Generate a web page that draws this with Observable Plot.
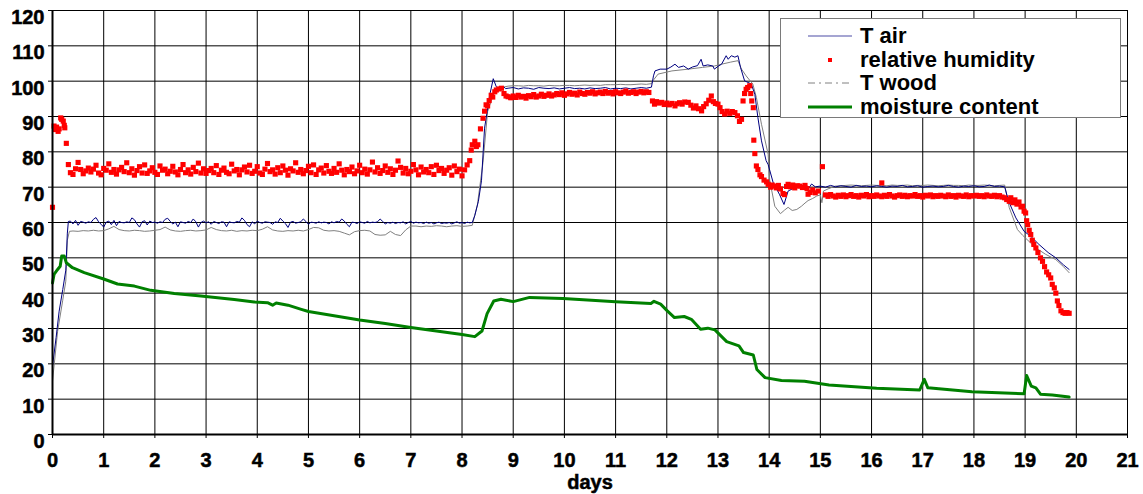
<!DOCTYPE html>
<html><head><meta charset="utf-8">
<script src="https://cdn.jsdelivr.net/npm/d3@7"></script>
<script src="https://cdn.jsdelivr.net/npm/@observablehq/plot@0.6"></script>
<style>
body{margin:0;background:#fff;}
#wrap{position:relative;width:1143px;height:494px;font-family:"Liberation Sans",Arial,sans-serif;}
#wrap svg text{font:bold 20px "Liberation Sans",Arial,sans-serif !important;fill:#000;}
#legend{position:absolute;left:780px;top:18px;width:341px;height:100px;background:#fff;border:1px solid #7a7a7a;box-sizing:border-box;}
.row{position:absolute;left:0;height:24px;display:flex;align-items:center;}
.row svg{margin-left:27px;margin-right:8px;display:block}
.row span{font-weight:bold;font-size:22px;color:#000;line-height:24px}
</style></head>
<body><div id="wrap"></div>
<script>
// ---------- tick labels ----------
const dayTicks = d3.range(0, 22);
const valueTicks = d3.range(0, 121, 10);
const seriesNames = ["T air", "relative humidity", "T wood", "moisture content"];

// ---------- T air ----------
const tAirStart = [[0,19.3],[0.07,27.4],[0.13,34.9],[0.2,41],[0.26,46.5],[0.29,57],[0.31,60.3]];
const tAirFlat1 = [ // from day 0.35, every 0.05 day
60.4,59.6,60.6,59.2,60.3,60.1,59.8,60.2,60.0,60.9,61.4,60.2,59.5,58.7,60.1,60.4,59.4,60.6,59.1,60.3,
60.0,59.9,60.2,60.0,61.3,60.8,59.6,58.7,60.2,60.5,59.3,60.4,60.0,60.1,59.8,60.2,60.0,60.9,61.2,60.3,
59.6,60.1,58.8,60.2,60.0,59.8,60.3,60.0,61.0,60.2,58.7,60.0,60.4,59.9,60.2,59.5,60.3,60.0,59.7,60.2,
60.1,58.8,60.2,60.0,59.9,60.3,60.1,61.3,60.6,59.4,58.8,60.2,59.6,60.4,60.0,59.8,60.2,60.1,60.0,59.5,
60.2,60.0,61.2,60.4,59.7,58.6,60.1,60.3,59.8,60.0,60.2,61.0,60.3,59.5,60.1,60.0,59.8,60.2,59.9,60.1,
60.0,59.6,60.2,59.9,60.3,60.1,61.0,60.4,59.5,58.8,60.1,60.0,59.7,60.2,60.0,59.8,60.3,59.9,60.1,60.0,
60.2,61.0,60.3,59.6,60.0,59.8,60.1,59.7,60.0,59.9,60.2,59.6,60.0,60.3,59.8,60.1,59.9,60.0,59.7,60.1,
59.8,60.0,59.6,59.9,60.1,59.7,59.9,59.8,60.0,59.6,59.9,60.2,59.8,60.0,59.7,60.1,59.9,60.0];
const tAirRise1 = [[8.25,62],[8.32,66],[8.38,71.8],[8.44,86.7],[8.54,96],[8.61,100.7],[8.67,98.4],[8.74,97.5],[8.8,98.6],[8.85,97.9]];
const tAirFlat2 = [ // from day 8.9, every 0.1 day
98.0,98.2,97.8,98.1,98.0,97.7,98.2,98.0,97.9,98.1,97.8,98.0,98.2,97.9,98.0,97.8,98.1,97.9,98.0,98.2,
97.8,98.0,97.9,98.1,97.8,98.0,98.2,98.0,98.3];
const tAirMid = [[11.74,101.5],[11.77,102.9],[11.87,103.4],[12.0,103.4],[12.08,104.0],[12.16,104.8],[12.23,103.9],[12.33,104.3],[12.42,103.4],[12.5,104.0],[12.6,104.4],[12.67,106.2],[12.71,104.3],[12.8,104.6],[12.9,104.3],[12.93,103.4],[13.0,104.2],[13.07,104.8],[13.16,107.2],[13.2,106.2],[13.26,107.2],[13.33,106.8],[13.39,107.2],[13.44,103.9],[13.52,100.1],[13.65,99.2],[13.72,96.3],[13.78,89.7],[13.85,83.1],[13.94,77.5],[13.98,76.4],[14.08,71.2],[14.2,68],[14.29,65.1],[14.37,68.9],[14.45,69.5],[14.53,70.6],[14.63,69.8],[14.7,70.8],[14.78,69.9],[14.83,70.9],[14.9,70.1]];
const tAirFlat3 = [ // from day 15.0, every 0.1 day
70.3,70.0,70.5,70.1,70.4,70.2,70.0,70.5,70.2,70.3,70.1,70.4,70.2,70.0,70.3,70.2,70.5,70.1,70.2,70.4,
70.0,70.2,70.3,70.1,70.2,70.5,70.2,70.0,70.3,70.2,70.4,70.1,70.2,70.6,70.2,70.3,70.1];
const tAirEnd = [[18.65,67.5],[18.69,65.6],[18.82,61.3],[18.98,57.5],[19.11,56.1],[19.27,53.8],[19.45,51.5],[19.6,50],[19.75,48],[19.86,46.7]];

// ---------- T wood ----------
const tWoodStart = [[0,15.1],[0.1,29.2],[0.2,38],[0.26,43.4],[0.29,55],[0.33,57.5]];
const tWoodFlat1 = [ // from day 0.4, every 0.1 day
57.6,57.5,57.7,57.6,57.8,57.6,57.7,58.2,58.9,58.0,
57.7,57.6,57.8,57.7,57.5,57.6,57.8,58.0,58.7,57.9,
57.6,57.5,57.7,57.8,57.6,57.7,57.9,58.6,58.0,57.7,
57.6,57.8,57.5,57.7,57.6,57.8,57.7,58.1,58.8,57.9,
57.6,57.5,57.7,57.6,57.8,57.6,58.0,58.6,58.5,57.8,
57.6,57.7,57.5,57.0,56.5,57.4,57.7,57.8,57.6,56.6,
56.4,56.5,57.5,56.6,56.3,57.9,59.0,59.0,58.8,59.0,
58.9,59.1,59.0,58.8,59.0,59.1,58.9,59.0,59.2];
const tWoodRise1 = [[8.3,65],[8.41,77],[8.5,91.4],[8.63,97],[8.77,98.2]];
const tWoodFlat2 = [ // from day 8.9, every 0.1 day
98.6,98.7,98.7,98.6,98.8,98.7,98.7,98.6,98.8,98.7,98.7,98.8,98.8,98.7,98.8,98.9,98.8,98.9,98.8,99.0,
99.0,99.0,99.1,99.0,99.0,99.1,99.2,99.1,99.3];
const tWoodMid = [[11.75,100.5],[11.83,102],[12.1,102.9],[12.42,103.4],[12.7,103.9],[12.93,104.3],[13.07,104.8],[13.25,105.4],[13.39,105.8],[13.46,103.4],[13.55,101.5],[13.68,99.2],[13.75,95.4],[13.85,87.8],[13.98,79.3],[14.01,72],[14.11,64.6],[14.22,62.5],[14.3,63.5],[14.37,64.3],[14.45,63.4],[14.54,63.7],[14.63,64.6],[14.7,65.5],[14.76,66.2],[14.85,66.8],[14.93,67.5],[15.0,67.8],[15.03,65.6],[15.06,68.9],[15.15,69.5],[15.29,70.3]];
const tWoodFlat3 = [ // from day 15.4, every 0.1 day
70.4,70.5,70.6,70.5,70.4,70.5,70.6,70.5,70.5,70.4,70.6,70.5,70.5,70.6,70.4,70.5,70.5,70.6,70.5,70.4,
70.5,70.6,70.5,70.5,70.4,70.6,70.5,70.5,70.6,70.5,70.4,70.5,70.6];
const tWoodEnd = [[18.69,64.2],[18.85,58],[18.95,56.4],[19.21,52.8],[19.4,51],[19.6,49.5],[19.75,47.5],[19.86,45.8]];

// ---------- relative humidity ----------
const rhStart = [[0,64.3],[0.03,87.3],[0.05,86.5],[0.06,86.3],[0.08,87],[0.11,85.8],[0.13,86.5],[0.16,89.6],[0.18,89.2],[0.21,88.7],[0.23,87.5],[0.24,86.8],[0.27,82.4],[0.31,76.4]];
const rhFlat1 = [ // from day 0.35, every 0.05 day
74.1,73.6,75.2,77.0,75.0,73.8,74.6,75.4,74.3,75.1,76.2,74.0,73.5,75.3,74.8,76.6,74.2,75.0,73.7,74.9,
75.6,74.4,76.9,74.1,75.2,73.4,74.7,75.8,74.0,76.3,73.9,74.6,75.5,74.2,73.6,76.0,74.8,75.1,73.8,74.5,
75.9,74.3,73.5,75.0,76.4,74.1,74.9,73.7,75.6,74.4,76.8,74.0,75.2,73.9,74.7,75.3,74.1,76.1,73.6,74.8,
75.4,74.2,73.8,76.5,74.6,75.0,73.5,74.9,75.7,74.3,76.2,73.9,74.5,75.8,74.0,73.6,75.1,76.7,74.4,74.9,
73.7,75.5,74.1,76.0,74.8,73.4,75.2,74.6,76.9,74.2,75.0,73.8,74.7,75.9,74.1,76.3,73.6,74.9,75.4,74.0,
76.1,74.5,73.9,75.3,74.2,76.6,74.8,73.5,75.0,74.4,75.7,73.8,74.6,76.2,74.1,75.1,73.7,74.9,77.1,74.3,
75.5,73.9,74.7,76.0,74.2,75.2,73.6,74.8,77.4,75.6,74.0,75.3,73.8,74.5,76.4,74.9,73.5,75.7,74.3,75.0,
74.1,75.8,73.6,76.2,74.7,75.3,73.9,74.8,75.5,73.4,76.0,74.4,75.1,73.2,74.9,76.3];
const rhRise1 = [[8.15,77.5],[8.18,80.5],[8.2,82],[8.25,83],[8.28,81.5],[8.31,82],[8.36,86.5],[8.41,89.5],[8.44,91.5],[8.47,93.3],[8.5,93],[8.53,94.5],[8.57,96],[8.6,95.5],[8.64,97],[8.67,97.5],[8.72,97.8],[8.77,98],[8.82,96.5],[8.86,95.8]];
const rhFlat2 = [ // from day 8.9, every 0.05 day
95.6,95.3,95.8,95.4,96.0,95.5,95.7,95.2,95.9,95.6,96.2,95.5,95.8,96.3,95.7,96.0,96.4,95.8,96.1,96.5,
96.2,96.7,96.0,96.4,96.8,96.3,96.6,96.1,96.9,96.5,96.3,96.8,96.6,97.0,96.4,96.7,96.9,96.5,97.1,96.6,
96.8,96.4,97.0,96.7,96.5,96.9,97.2,96.6,96.8,97.0,96.5,96.9,97.1,96.7,97.0,96.8];
const rhMid = [[11.72,94.4],[11.76,93.5],[11.8,94.2],[11.85,93.8],[11.9,94],[11.95,93.4],[12.0,93.8],[12.05,93.3],[12.1,93.7],[12.16,93],[12.2,93.6],[12.25,93.9],[12.3,93.5],[12.35,94.1],[12.42,94],[12.47,93.2],[12.52,92.4],[12.57,93],[12.62,92.2],[12.68,91.6],[12.72,92.8],[12.77,93.6],[12.82,94.6],[12.87,95.8],[12.91,94.2],[12.95,93.7],[13.0,93.5],[13.04,92.5],[13.08,91.4],[13.13,90.7],[13.18,91.5],[13.23,90.9],[13.28,91.4],[13.33,91.1],[13.38,90.2],[13.42,88.6],[13.46,89.2],[13.49,94.4],[13.52,96.5],[13.55,97.7],[13.58,98.2],[13.62,98.7],[13.64,96.5],[13.66,94.4],[13.69,92.5],[13.7,83.3],[13.72,79.5],[13.75,76],[13.78,75],[13.82,73.5],[13.85,73],[13.9,72],[13.95,71.5],[13.98,70.8],[14.03,70],[14.06,70.6],[14.1,70.3],[14.14,69.8],[14.18,70.5],[14.22,69.5],[14.27,68.2],[14.3,67.9],[14.34,70.2],[14.37,70.8],[14.42,70.1],[14.46,70.6],[14.5,69.8],[14.55,70.4],[14.6,70.3],[14.65,69.9],[14.7,70.5],[14.74,69.6],[14.76,68],[14.8,68.5],[14.85,69.2],[14.9,68.4],[14.96,68.9],[15.04,75.8],[16.2,71.2]];
const rhFlat3 = [ // from day 15.1, every 0.05 day
67.8,67.4,67.9,67.5,67.2,67.7,67.4,67.8,67.3,67.6,67.9,67.4,67.6,67.2,67.7,67.5,67.9,67.3,67.6,67.4,
67.8,67.5,67.3,67.7,67.4,67.9,67.5,67.2,67.6,67.8,67.4,67.7,67.3,67.6,67.5,67.9,67.4,67.6,67.2,67.7,
67.5,67.8,67.3,67.6,67.4,67.7,67.5,67.3,67.8,67.4,67.6,67.2,67.7,67.5,67.4,67.8,67.3,67.6,67.5,67.7,
67.4,67.6,67.3,67.8,67.5,67.4,67.7,67.3,67.6,67.2];
const rhEnd = [[18.6,67],[18.64,66.5],[18.69,66],[18.72,67],[18.76,65.6],[18.8,66.4],[18.84,65.2],[18.88,65.8],[18.92,64.4],[18.95,64.6],[18.98,63.2],[19.01,62.7],[19.03,60.5],[19.05,59.4],[19.08,57.8],[19.11,56.6],[19.14,55],[19.17,53.8],[19.21,52.8],[19.25,51.5],[19.3,50],[19.34,49],[19.38,47.5],[19.42,46],[19.46,45.2],[19.5,44.3],[19.53,42.5],[19.57,41.5],[19.6,40],[19.63,37.8],[19.66,36.5],[19.7,35],[19.74,34.5],[19.78,34.3],[19.82,34.5],[19.86,34.3]];

// ---------- moisture content ----------
const moisture = [[0,42.9],[0.03,45.3],[0.1,46.7],[0.15,47.6],[0.18,50.5],[0.23,50.5],[0.27,48.6],[0.39,47.2],[0.62,45.8],[1.0,44],[1.27,42.6],[1.6,42],[1.92,40.8],[2.38,39.9],[2.9,39.2],[3.55,38.2],[3.94,37.5],[4.2,37.3],[4.3,36.6],[4.37,37.2],[4.6,36.6],[4.86,35.4],[5.0,34.8],[5.5,33.6],[6.0,32.4],[6.5,31.4],[7.0,30.3],[7.5,29.3],[8.0,28.3],[8.25,27.7],[8.39,29.3],[8.49,34.2],[8.62,37.8],[8.76,38.3],[9.0,37.6],[9.32,38.8],[9.97,38.5],[10.53,38.0],[11.0,37.6],[11.69,37.1],[11.75,37.7],[11.88,36.9],[12.01,35],[12.15,33.1],[12.34,33.4],[12.48,32.6],[12.66,29.8],[12.8,30.1],[12.94,29.6],[13.17,26.3],[13.41,25.1],[13.5,23.2],[13.69,22.5],[13.76,18.4],[13.92,16.1],[14.24,15.3],[14.69,15.1],[15.17,14.0],[16.1,13.1],[16.94,12.6],[17.03,15.6],[17.1,13.2],[17.96,12.1],[18.98,11.5],[19.03,16.7],[19.12,13.7],[19.21,13.2],[19.3,11.4],[19.53,11.2],[19.86,10.6]];

// sampling grid for evenly logged segments
function grid(start, step, vals) { return vals.map((v, i) => [+(start + i * step).toFixed(3), v]); }

const tAir = [...tAirStart, ...grid(0.35,0.05,tAirFlat1), ...tAirRise1, ...grid(8.9,0.1,tAirFlat2), ...tAirMid, ...grid(15.0,0.1,tAirFlat3), ...tAirEnd];
const tWood = [...tWoodStart, ...grid(0.4,0.1,tWoodFlat1), ...tWoodRise1, ...grid(8.9,0.1,tWoodFlat2), ...tWoodMid, ...grid(15.4,0.1,tWoodFlat3), ...tWoodEnd];
const rh = [...rhStart, ...grid(0.35,0.05,rhFlat1), ...rhRise1, ...grid(8.9,0.05,rhFlat2), ...rhMid, ...grid(15.1,0.05,rhFlat3), ...rhEnd];

const colors = {tAir: "#000080", rh: "#ff0000", tWood: "#808080", mc: "#008000"};
const font = '"Liberation Sans", Arial, sans-serif';

const chart = Plot.plot({
  width: 1143, height: 494,
  marginLeft: 52, marginRight: 16, marginTop: 10, marginBottom: 60,
  style: {fontFamily: font, fontWeight: "bold", fontSize: "20px", background: "#fff", overflow: "visible"},
  x: {domain: [0, 21]},
  y: {domain: [0, 120]},
  marks: [
    Plot.gridX(dayTicks, {stroke: "#000", strokeOpacity: 1, strokeWidth: 1}),
    Plot.gridY(valueTicks, {stroke: "#000", strokeOpacity: 1, strokeWidth: 1}),
    Plot.axisY(valueTicks, {tickSize: 4, tickFormat: () => "", label: null}),
    Plot.axisY(valueTicks, {tickSize: 0, tickPadding: 8, dy: 7, label: null, tickFormat: d => d, fontWeight: "bold", fontSize: 20}),
    Plot.axisX(dayTicks, {tickSize: 4, tickPadding: 14, label: "days", labelAnchor: "center", labelArrow: "none", labelOffset: 54, tickFormat: d => d, fontWeight: "bold", fontSize: 20}),
    Plot.line(tWood, {x: d => d[0], y: d => d[1], stroke: colors.tWood, strokeWidth: 1}),
    Plot.line(tAir, {x: d => d[0], y: d => d[1], stroke: colors.tAir, strokeWidth: 1}),
    Plot.line(moisture, {x: d => d[0], y: d => d[1], stroke: colors.mc, strokeWidth: 3}),
    Plot.dot(rh, {x: d => d[0], y: d => d[1], symbol: "square", r: 2.9, fill: colors.rh, stroke: "none"}),
    Plot.ruleX([0], {stroke: "#000", strokeWidth: 2}),
    Plot.ruleY([0], {stroke: "#000", strokeWidth: 2})
  ]
});
chart.querySelectorAll("text").forEach(t => {
  t.setAttribute("font-weight", "bold");
  t.style.fontWeight = "bold";
  t.setAttribute("stroke", "#000");
  t.setAttribute("stroke-width", "0.5");
});

const wrap = document.getElementById("wrap");
wrap.appendChild(chart);

// legend overlay
const legend = document.createElement("div");
legend.id = "legend";
const samples = [
  `<line x1="0" y1="6" x2="44" y2="6" stroke="${colors.tAir}" stroke-width="1" opacity="0.7"/>`,
  `<rect x="20" y="4" width="4" height="4" fill="${colors.rh}"/>`,
  `<line x1="0" y1="6" x2="44" y2="6" stroke="${colors.tWood}" stroke-width="1" stroke-dasharray="7,4,2,4"/>`,
  `<line x1="0" y1="6" x2="44" y2="6" stroke="${colors.mc}" stroke-width="3"/>`
];
seriesNames.forEach((name, i) => {
  const row = document.createElement("div");
  row.className = "row";
  row.style.top = (5 + i * 23.5) + "px";
  row.innerHTML = `<svg width="44" height="12">${samples[i]}</svg><span>${name}</span>`;
  legend.appendChild(row);
});
wrap.appendChild(legend);
</script></body></html>
